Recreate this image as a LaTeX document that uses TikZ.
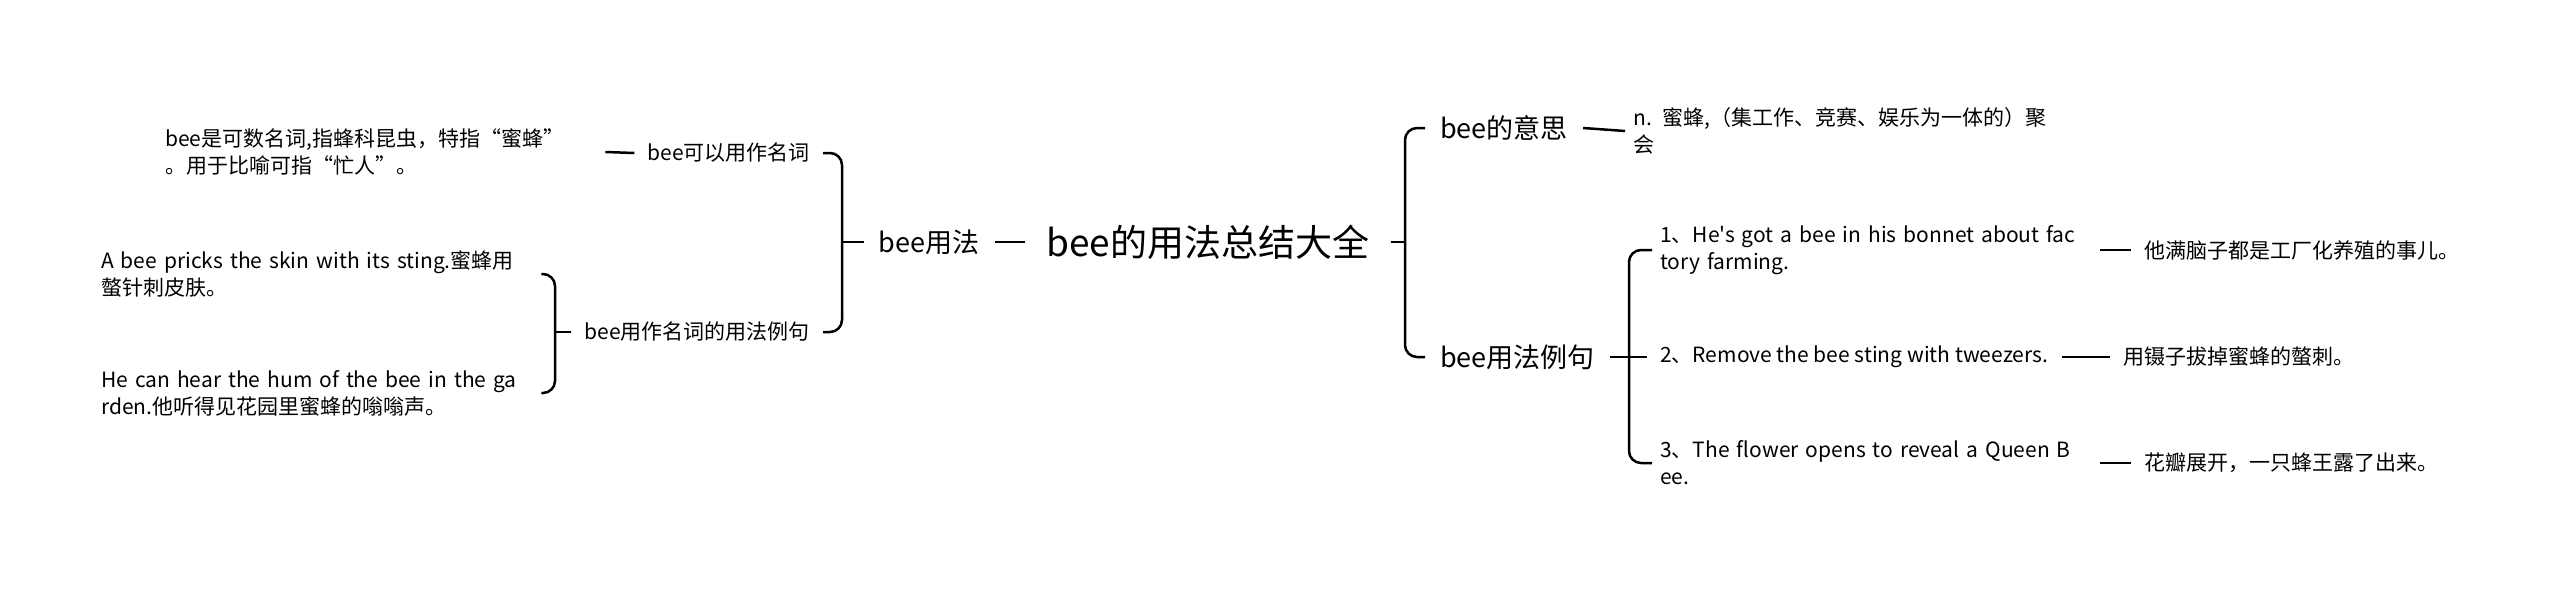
\documentclass[tikz,border=0pt]{standalone}
\usepackage{fontspec}
\setmainfont{Noto Sans CJK SC}[Ligatures=TeXOff]

\begin{document}
\begin{tikzpicture}[x=1pt,y=-1pt,
  root/.style={font=\fontsize{37}{44}\selectfont,inner xsep=21pt,inner ysep=0pt},
  topic/.style={font=\fontsize{27}{32}\selectfont,inner xsep=15pt,inner ysep=0pt},
  leaf/.style={font=\fontsize{21}{27}\selectfont,inner xsep=13pt,inner ysep=0pt,align=left},
  wide/.style={text width=432pt,inner xsep=8pt},
  link/.style={line width=2.5pt},
  brace/.style={line width=2.5pt,rounded corners=12pt}]
\useasboundingbox (0,0) rectangle (2560,592);
\node[root] (main) at (1208,242) {bee的用法总结大全};
\coordinate (rj) at (1405,242);
\draw[link] (main.east) -- (rj);
\node[topic,anchor=west] (mean) at (1425,128) {bee的意思};
\node[topic,anchor=west] (usage) at (1425,357) {bee用法例句};
\draw[brace] (mean.west) -| (rj) |- (usage.west);
\node[leaf,wide,anchor=west] (meandef) at (1625,131) {n. 蜜蜂,（集工作、竞赛、娱乐为一体的）聚\\会};
\draw[link] (mean.east) -- (meandef.west);
\coordinate (uj) at (1629,357);
\draw[link] (usage.east) -- (uj);
\node[leaf,wide,anchor=west] (ex1) at (1652,250) {1、He's got a bee in his bonnet about fac\\tory farming.};
\node[leaf,anchor=west] (ex2) at (1647,357) {2、Remove the bee sting with tweezers.};
\node[leaf,wide,anchor=west] (ex3) at (1652,463) {3、The flower opens to reveal a Queen B\\ee.};
\draw[brace] (ex1.west) -| (uj) |- (ex3.west);
\draw[link] (uj) -- (ex2.west);
\node[leaf,anchor=west] (tr1) at (2131,250) {他满脑子都是工厂化养殖的事儿。};
\draw[link] (ex1.east) -- (tr1.west);
\node[leaf,anchor=west] (tr2) at (2110,357) {用镊子拔掉蜜蜂的螫刺。};
\draw[link] (ex2.east) -- (tr2.west);
\node[leaf,anchor=west] (tr3) at (2131,463) {花瓣展开，一只蜂王露了出来。};
\draw[link] (ex3.east) -- (tr3.west);
\node[topic] (use) at (929,242) {bee用法};
\draw[link] (main.west) -- (use.east);
\coordinate (lj) at (842,242);
\draw[link] (use.west) -- (lj);
\node[leaf,anchor=east] (noun) at (823,153) {bee可以用作名词};
\node[leaf,anchor=east] (nounex) at (823,332) {bee用作名词的用法例句};
\draw[brace] (noun.east) -| (lj) |- (nounex.east);
\node[leaf,wide,anchor=west] (nounleaf) at (157,152) {bee是可数名词,指蜂科昆虫，特指“蜜蜂”\\。用于比喻可指“忙人”。};
\draw[link] (nounleaf.east) -- (noun.west);
\coordinate (nj) at (555,332);
\draw[link] (nounex.west) -- (nj);
\node[leaf,wide,anchor=west] (sting) at (93,274) {A bee pricks the skin with its sting.蜜蜂用\\螫针刺皮肤。};
\node[leaf,wide,anchor=west] (hum) at (93,393) {He can hear the hum of the bee in the ga\\rden.他听得见花园里蜜蜂的嗡嗡声。};
\draw[brace] (sting.east) -| (nj) |- (hum.east);
\end{tikzpicture}
\end{document}
